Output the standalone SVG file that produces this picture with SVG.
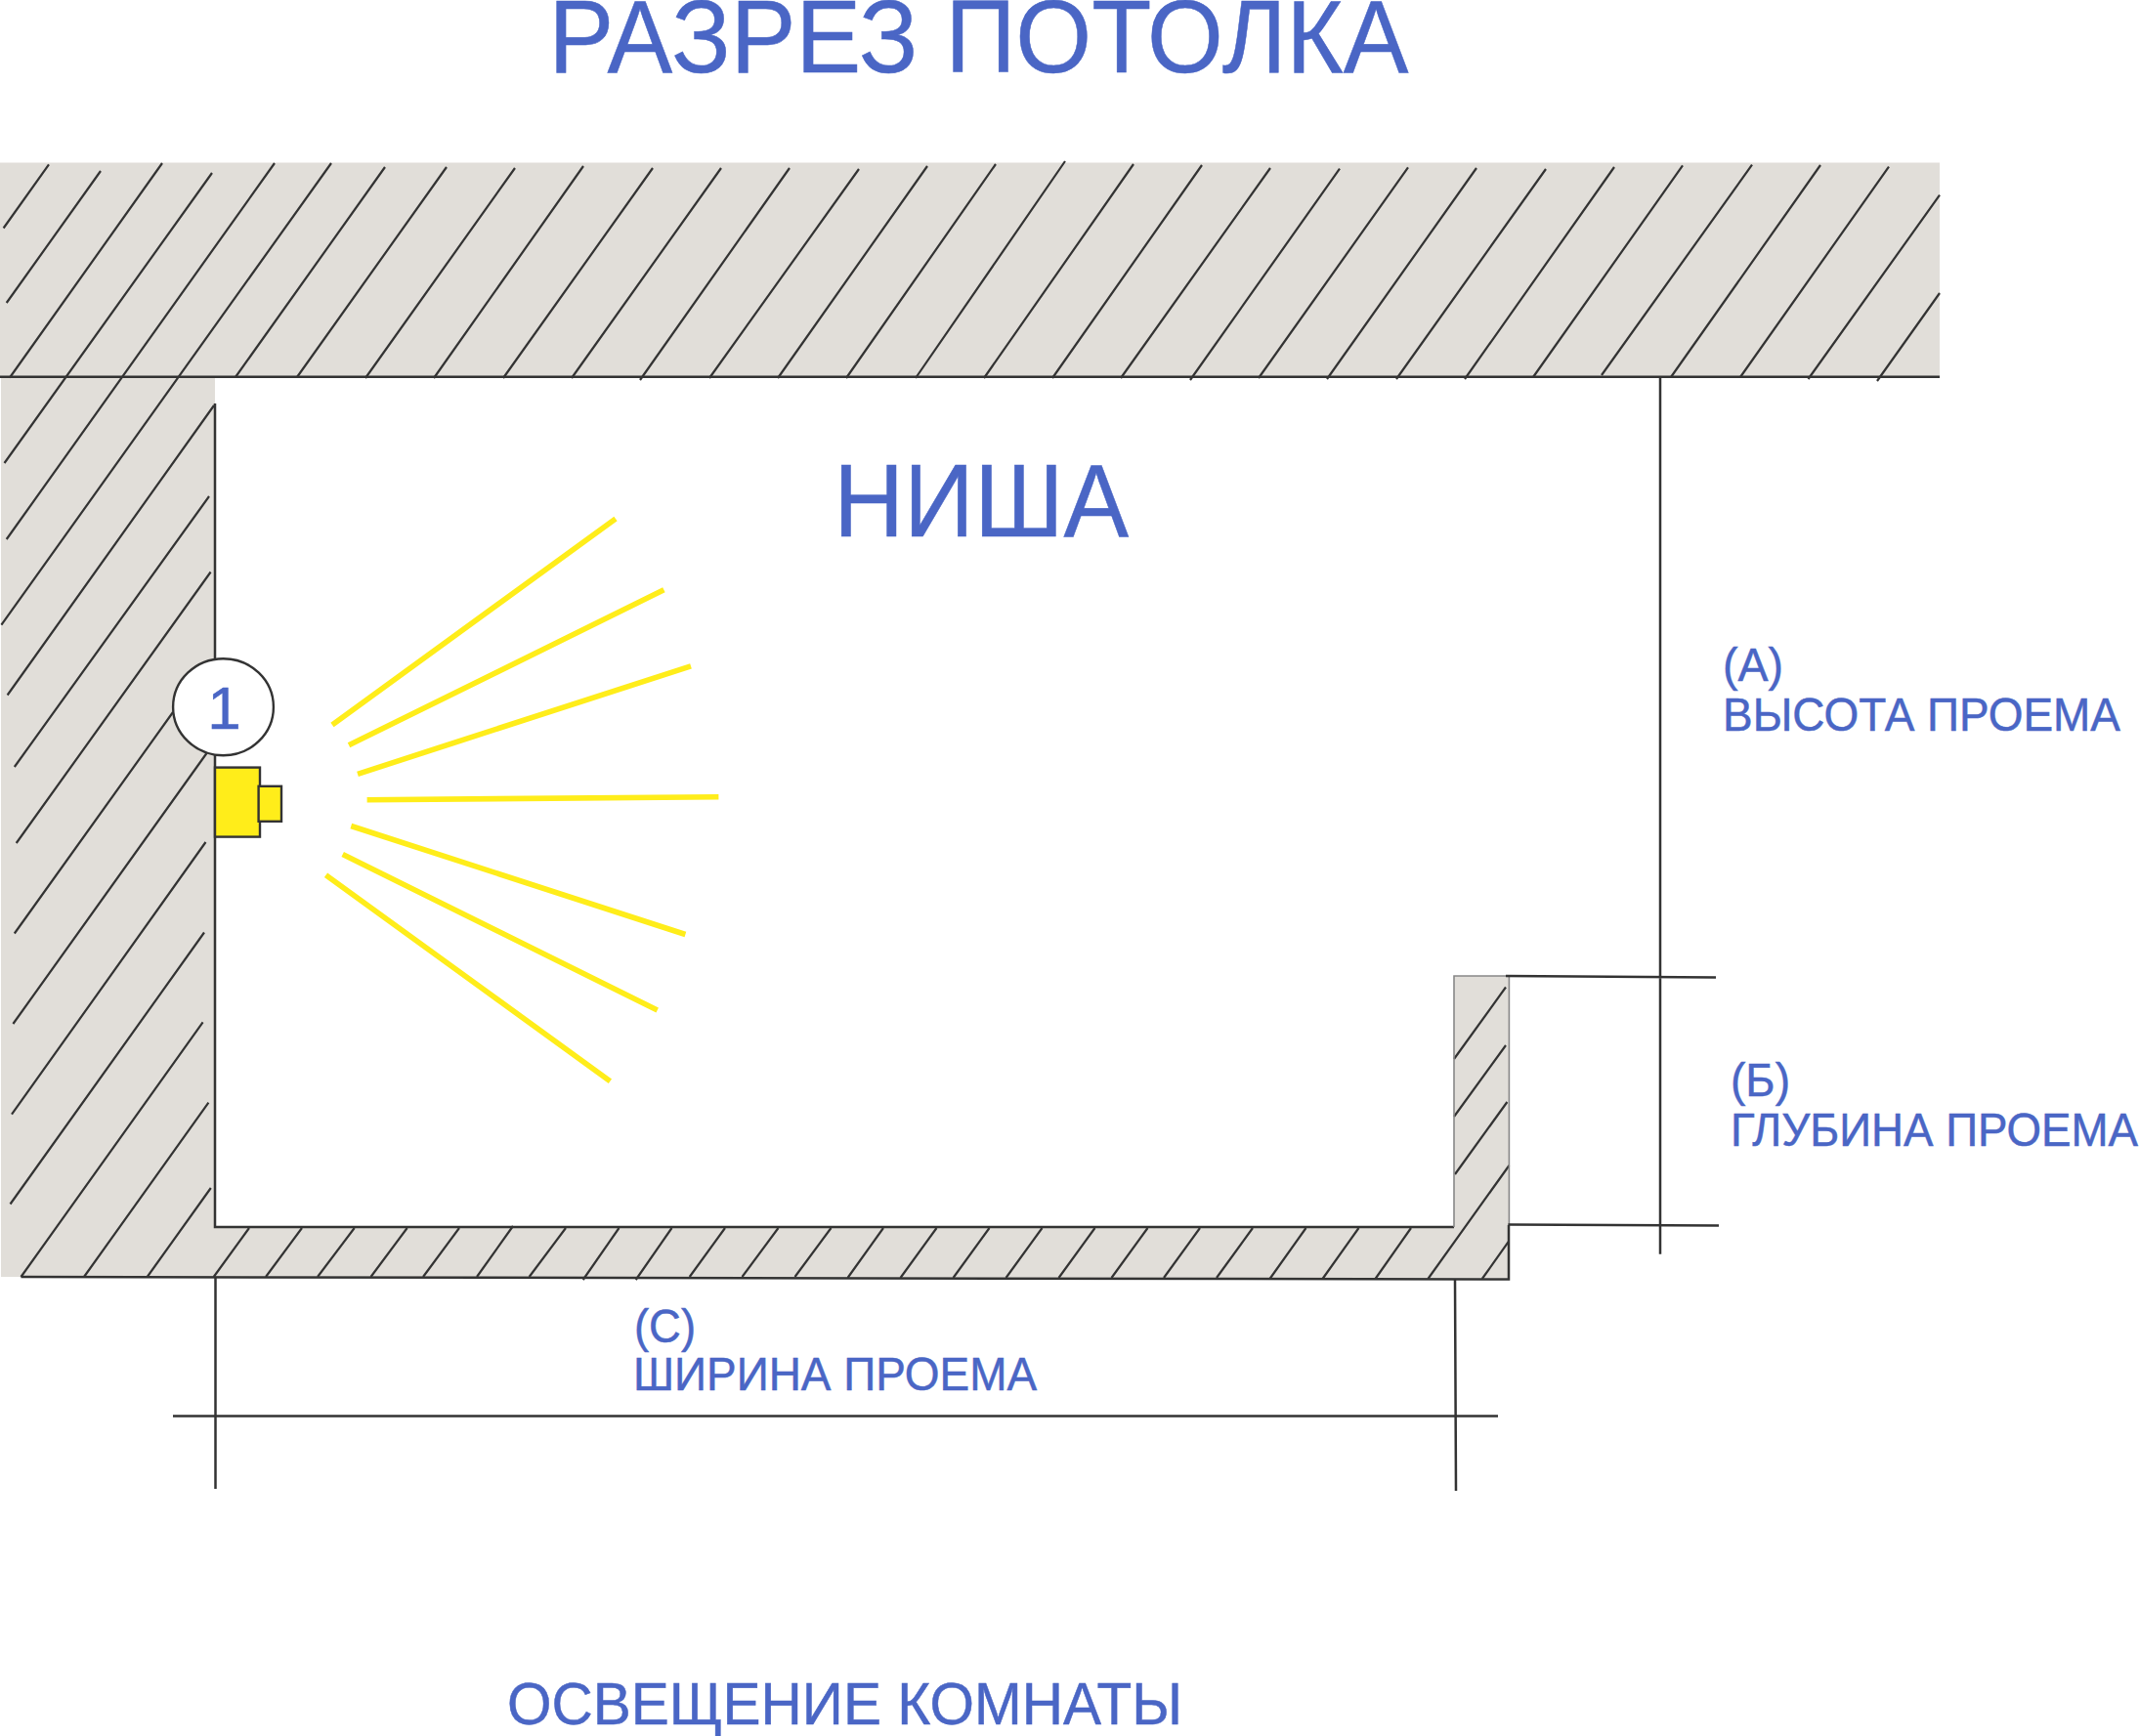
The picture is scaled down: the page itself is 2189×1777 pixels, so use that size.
<svg xmlns="http://www.w3.org/2000/svg" width="2189" height="1777" viewBox="0 0 2189 1777">
<style>
.g{fill:#e1ded9}
.h{stroke:#333;stroke-width:2.2;fill:none}
.m{stroke:#333;stroke-width:2.5;fill:none}
.t{stroke:#888;stroke-width:1.6;fill:none}
.r{stroke:#ffed1a;stroke-width:5.6;fill:none}
.y{fill:#ffed1a;stroke:#333;stroke-width:2.4}
text{font-family:"Liberation Sans",Arial,sans-serif;fill:#4a66c5;stroke:#4a66c5;stroke-width:.5}
</style>
<rect width="2189" height="1777" fill="#fff"/>
<g id="walls">
<rect class="g" x="0" y="166.5" width="1985" height="219.5"/>
<rect class="g" x="1" y="386" width="219" height="921"/>
<rect class="g" x="220" y="1256" width="1324" height="52"/>
<rect class="g" x="1488" y="999" width="56" height="257"/>
</g>
<g id="hatching">
<path class="h" d="M3.6 233.5L50 168.4M6.7 310L103 175M10 386.5L166 167M4.5 474L217 177M6.7 552L281 167M1.4 639.7L339 167M241 386L394 171M304 386L457 171"/>
<path class="h" d="M374 387L527 172M444 387L597 170M515 387L668 172M585 387L738 172M655 389L808 172M726 387L879 173M796 387L949 170M866 387L1019 168M937 387L1090 165M1007 387L1160 168M1077 387L1230 169M1147 387L1300 172M1218 389L1371 172.6M1288 387L1441 171.4M1358 388L1511 172M1429 388L1582 173M1499 388L1652 171M1569 386L1722 169.4M1639 384L1793 168.6M1710 386L1863 169M1781 386L1933 170.6M1850.5 388L1985 199.6M1921 390L1985 300"/>
<path class="h" d="M7.6 711.5L219 415M14.8 785L214 508M16.7 863L215.6 585.5M14.8 955.5L177 729M13.4 1048L211.5 771M12 1140.7L210.5 862M10.5 1232.5L209 954.5M21.5 1307L207.6 1046.4M86 1307L213.4 1128.7M150.7 1307L215.8 1216"/>
<path class="h" d="M218.7 1307L255 1257M272 1307L309 1257M325 1307L362.7 1257M379.5 1307L416.7 1257M433 1307L470 1257M488 1307L525 1255M541.6 1307L579 1257M596.7 1310L633.5 1257M650.7 1310L687.5 1257M705.7 1307L742 1257M759.5 1307L796.5 1257M813.5 1307L850.5 1257M867.5 1308L904 1257M921.5 1308L958.5 1257M975.5 1308L1012.5 1257M1029.5 1308L1066.5 1257M1083.5 1308L1120.5 1257M1137.5 1308L1174.5 1257M1191 1308L1228 1257M1245 1308L1282 1257M1299.5 1309L1336.5 1257M1353.5 1309L1390.5 1257M1407.5 1309L1444 1257"/>
<path class="h" d="M1488 1084L1541 1010.5M1488 1143L1541 1070M1489 1202L1542.4 1128M1461.4 1309L1544.4 1193M1516.8 1309L1544 1270.7"/>
</g>
<g id="outline">
<path class="m" d="M0 385.8H1985M220 413V1256H1488"/>
<path class="m" d="M21.5 1307L1544 1309.5V1254"/>
<path class="t" d="M1488 1256V999H1544.4V1254"/>
</g>
<g id="dimensions">
<path class="m" d="M1699 386V1283.7M1541 999L1756 1000.5M1543.4 1253.5L1759 1254.6"/>
<path class="m" d="M220.5 1307V1524M1489 1310L1490 1526M177 1449.4H1533"/>
</g>
<g id="rays">
<path class="r" d="M340 742L630 531M357 762.7L679.4 603.8M366 792.3L707 681.8M375.6 818.7L735.4 815.8M359.3 845.5L701.4 956.5M350.7 874.6L672.7 1034M333.5 895.7L624.4 1106.7"/>
</g>
<g id="lamp">
<rect class="y" x="220" y="785.6" width="46" height="71"/>
<rect class="y" x="264.6" y="804.8" width="23.4" height="36"/>
</g>
<g id="marker-1">
<ellipse cx="228.5" cy="723.7" rx="51.4" ry="49.5" fill="#fff" stroke="#333" stroke-width="2.4"/>
<text x="229.5" y="746" font-size="62" text-anchor="middle">1</text>
</g>
<g id="labels">
<text x="561.5" y="73.7" font-size="105" textLength="880" lengthAdjust="spacingAndGlyphs">РАЗРЕЗ ПОТОЛКА</text>
<text x="853" y="549" font-size="106" textLength="302" lengthAdjust="spacingAndGlyphs">НИША</text>
<text x="1763" y="697" font-size="47.5" textLength="62" lengthAdjust="spacingAndGlyphs">(А)</text>
<text x="1763" y="748" font-size="47.5" textLength="407" lengthAdjust="spacingAndGlyphs">ВЫСОТА ПРОЕМА</text>
<text x="1771" y="1122" font-size="47.5" textLength="61" lengthAdjust="spacingAndGlyphs">(Б)</text>
<text x="1771" y="1172.7" font-size="47.5" textLength="417" lengthAdjust="spacingAndGlyphs">ГЛУБИНА ПРОЕМА</text>
<text x="649" y="1373.7" font-size="47.5" textLength="63" lengthAdjust="spacingAndGlyphs">(С)</text>
<text x="648" y="1422.7" font-size="47.5" textLength="413" lengthAdjust="spacingAndGlyphs">ШИРИНА ПРОЕМА</text>
<text x="519" y="1765" font-size="61.5" textLength="691" lengthAdjust="spacingAndGlyphs">ОСВЕЩЕНИЕ КОМНАТЫ</text>
</g>
</svg>
